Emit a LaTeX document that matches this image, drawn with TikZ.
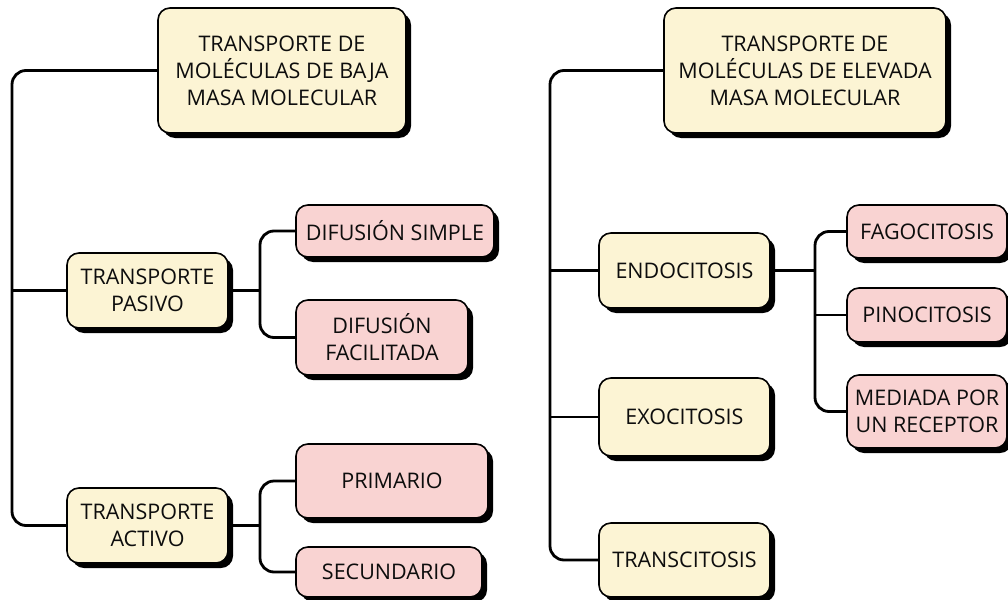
\documentclass[tikz,border=0pt]{standalone}
\usepackage{fontspec}
\setmainfont{Open Sans}
\usetikzlibrary{shadows,calc}
\definecolor{boxyellow}{HTML}{FCF4D4}
\definecolor{boxpink}{HTML}{F9D3D2}
\tikzset{
  basebox/.style={draw=black, line width=1.6pt, rounded corners=12pt, align=center,
    inner sep=2pt, font=\fontsize{21.5}{27}\selectfont, text=black!95,
    drop shadow={shadow xshift=5pt, shadow yshift=-5pt, fill=black, opacity=1}},
  ybox/.style={basebox, fill=boxyellow},
  pbox/.style={basebox, fill=boxpink},
  conn/.style={line width=2.8pt, rounded corners=14pt},
}
\begin{document}
\begin{tikzpicture}[x=1pt,y=-1pt]
\useasboundingbox (0,0) rectangle (1008,599);
\clip (0,0) rectangle (1008,599);
% left tree nodes
\node[ybox, minimum width=248pt, minimum height=125pt] (t1) at (282,70.5) {TRANSPORTE DE\\MOLÉCULAS DE BAJA\\MASA MOLECULAR};
\node[ybox, minimum width=161pt, minimum height=75pt] (p1) at (147.5,290.5) {TRANSPORTE\\PASIVO};
\node[ybox, minimum width=161pt, minimum height=75pt] (a1) at (147.5,525.5) {TRANSPORTE\\ACTIVO};
\node[pbox, minimum width=198pt, minimum height=52pt] (ds) at (395,231) {DIFUSIÓN SIMPLE};
\node[pbox, minimum width=172pt, minimum height=75pt] (df) at (382,337.5) {DIFUSIÓN\\FACILITADA};
\node[pbox, minimum width=192pt, minimum height=74pt] (pr) at (392,481) {PRIMARIO};
\node[pbox, minimum width=186pt, minimum height=50pt] (se) at (389,572) {SECUNDARIO};
% right tree nodes
\node[ybox, minimum width=282pt, minimum height=125pt] (t2) at (805,70.5) {TRANSPORTE DE\\MOLÉCULAS DE ELEVADA\\MASA MOLECULAR};
\node[ybox, minimum width=171pt, minimum height=75pt] (en) at (684.5,270.5) {ENDOCITOSIS};
\node[ybox, minimum width=171pt, minimum height=78pt] (ex) at (684.5,417) {EXOCITOSIS};
\node[ybox, minimum width=171pt, minimum height=74pt] (tr) at (684.5,560) {TRANSCITOSIS};
\node[pbox, minimum width=160pt, minimum height=53pt] (fa) at (927,231.5) {FAGOCITOSIS};
\node[pbox, minimum width=160pt, minimum height=54pt] (pi) at (927,315) {PINOCITOSIS};
\node[pbox, minimum width=160pt, minimum height=73pt] (me) at (927,411.5) {MEDIADA POR\\UN RECEPTOR};
% junction x positions
\coordinate (xl) at (12,0);
\coordinate (xp) at (260,0);
\coordinate (xr) at (550,0);
\coordinate (xe) at (815,0);
% left connectors
\draw[conn] (t1.west) -- (xl |- t1.west) -- (xl |- a1.west) -- (a1.west);
\draw[conn] (xl |- p1.west) -- (p1.west);
\draw[conn] (p1.east) -- (xp |- p1.east);
\draw[conn] (ds.west) -- (xp |- ds.west) -- (xp |- df.west) -- (df.west);
\draw[conn] (a1.east) -- (xp |- a1.east);
\draw[conn] (pr.west) -- (xp |- pr.west) -- (xp |- se.west) -- (se.west);
% right connectors
\draw[conn] (t2.west) -- (xr |- t2.west) -- (xr |- tr.west) -- (tr.west);
\draw[conn] (xr |- en.west) -- (en.west);
\draw[conn] (xr |- ex.west) -- (ex.west);
\draw[conn] (en.east) -- (xe |- en.east);
\draw[conn] (fa.west) -- (xe |- fa.west) -- (xe |- me.west) -- (me.west);
\draw[conn] (xe |- pi.west) -- (pi.west);
\end{tikzpicture}
\end{document}
